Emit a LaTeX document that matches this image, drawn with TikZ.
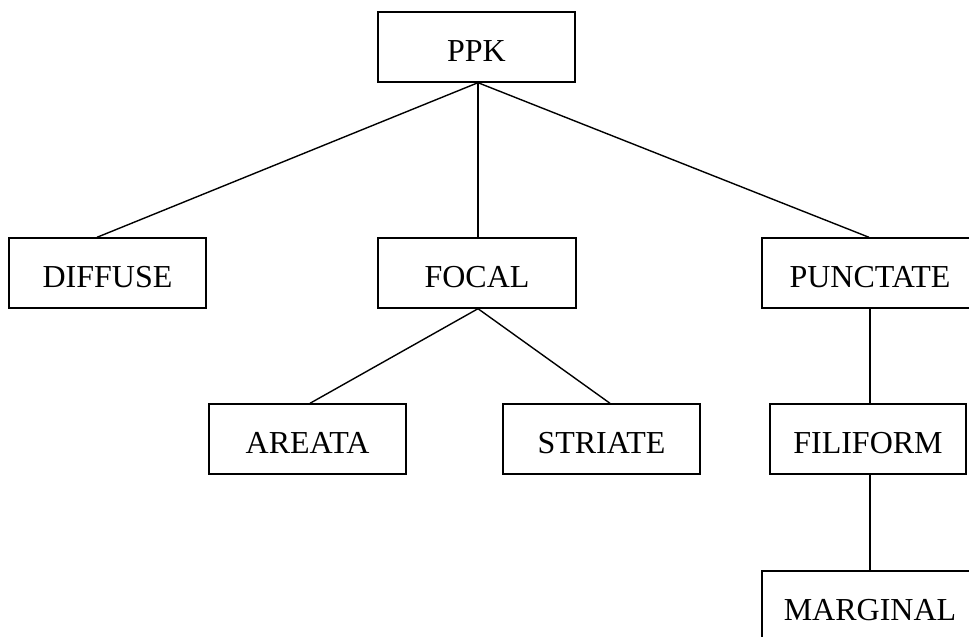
\documentclass[tikz,border=0pt]{standalone}
\usepackage{fontspec}
\setmainfont{Liberation Serif}
\begin{document}
\begin{tikzpicture}[x=1pt,y=-1pt,
  box/.style={draw=black, line width=1.4pt, minimum height=70pt, inner sep=0pt,
    text height=28pt, text depth=0pt, font=\fontsize{32}{38}\selectfont},
  link/.style={draw=black, line width=1.4pt}]
\useasboundingbox (0,0) rectangle (969,637);
\clip (0,0) rectangle (969,637);
\fill[white] (0,0) rectangle (969,637);
\node[box, minimum width=197pt] (ppk) at (476.5,47) {PPK};
\node[box, minimum width=197pt] (diffuse) at (107.5,273) {DIFFUSE};
\node[box, minimum width=198pt] (focal) at (477,273) {FOCAL};
\node[box, minimum width=216pt] (punctate) at (870,273) {PUNCTATE};
\node[box, minimum width=197pt] (areata) at (307.5,439) {AREATA};
\node[box, minimum width=197pt] (striate) at (601.5,439) {STRIATE};
\node[box, minimum width=196pt] (filiform) at (868,439) {FILIFORM};
\node[box, minimum width=216pt] (marginal) at (870,606) {MARGINAL};
\draw[link] ([xshift=1.5pt]ppk.south) -- ([xshift=-10.5pt]diffuse.north);
\draw[link] ([xshift=1.5pt]ppk.south) -- ([xshift=1pt]focal.north);
\draw[link] ([xshift=1.5pt]ppk.south) -- ([xshift=-1pt]punctate.north);
\draw[link] ([xshift=1pt]focal.south) -- ([xshift=2.5pt]areata.north);
\draw[link] ([xshift=1pt]focal.south) -- ([xshift=8.5pt]striate.north);
\draw[link] (punctate.south) -- ([xshift=2pt]filiform.north);
\draw[link] ([xshift=2pt]filiform.south) -- (marginal.north);
\end{tikzpicture}
\end{document}
